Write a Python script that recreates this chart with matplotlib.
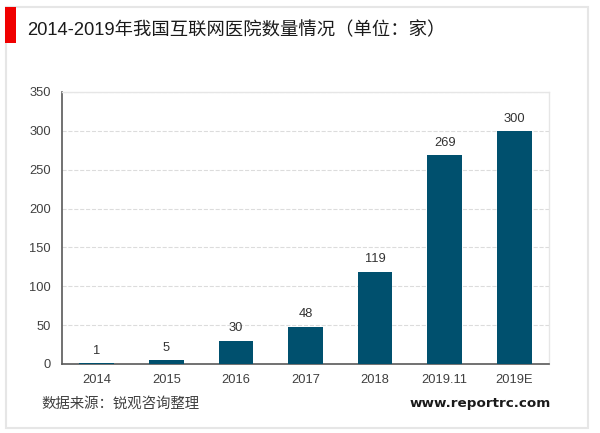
import matplotlib.pyplot as plt
from matplotlib.patches import Rectangle

plt.rcParams['font.family'] = ['Liberation Sans', 'Noto Sans CJK SC', 'DejaVu Sans']

years = ['2014', '2015', '2016', '2017', '2018', '2019.11', '2019E']
counts = [1, 5, 30, 48, 119, 269, 300]
yticks = [0, 50, 100, 150, 200, 250, 300, 350]

W, H = 600, 433
fig = plt.figure(figsize=(W / 100, H / 100), dpi=100, facecolor='white')

# 外框和红色标记，用像素坐标
bg = fig.add_axes([0, 0, 1, 1])
bg.set_xlim(0, W)
bg.set_ylim(H, 0)
bg.axis('off')
bg.add_patch(Rectangle((5.5, 7), 582, 420.5, fc='white', ec='#e6e6e6', lw=1.5))
bg.add_patch(Rectangle((5, 7), 11, 36, fc='#f00000', ec='none'))

ax = fig.add_axes([62 / W, 1 - 364 / H, (549 - 62) / W, (364 - 92) / H])
ax.bar(years, counts, width=0.5, color='#00506e', zorder=3)
ax.set_xlim(-0.5, 6.5)
ax.set_ylim(0, 350)
ax.set_yticks(yticks)
ax.grid(axis='y', color='#dcdcdc', linestyle='--', linewidth=0.8, zorder=0)
ax.set_axisbelow(True)

for s in ['top', 'right']:
    ax.spines[s].set_color('#e6e6e6')
    ax.spines[s].set_linewidth(1)
for s in ['left', 'bottom']:
    ax.spines[s].set_color('#595959')
    ax.spines[s].set_linewidth(1.2)
ax.tick_params(axis='both', length=0, labelsize=9.3, labelcolor='#404040')
ax.tick_params(axis='x', pad=7.5)
ax.tick_params(axis='y', pad=8)

for i, v in enumerate(counts):
    ax.annotate(str(v), (i, v), xytext=(0, 4.5), textcoords='offset points',
                ha='center', va='bottom', fontsize=9.3, color='#333333')

bg.text(27, 30, '2014-2019年我国互联网医院数量情况（单位：家）', fontsize=13.2,
        color='#1a1a1a', va='center', ha='left')
bg.text(41, 403.5, '数据来源：锐观咨询整理', fontsize=10.4, color='#404040',
        va='center', ha='left')
bg.text(551, 404, 'www.reportrc.com', fontsize=9.7, fontweight='bold',
        family='DejaVu Sans', color='#1a1a1a', va='center', ha='right')

fig.savefig('out.png', dpi=100)
